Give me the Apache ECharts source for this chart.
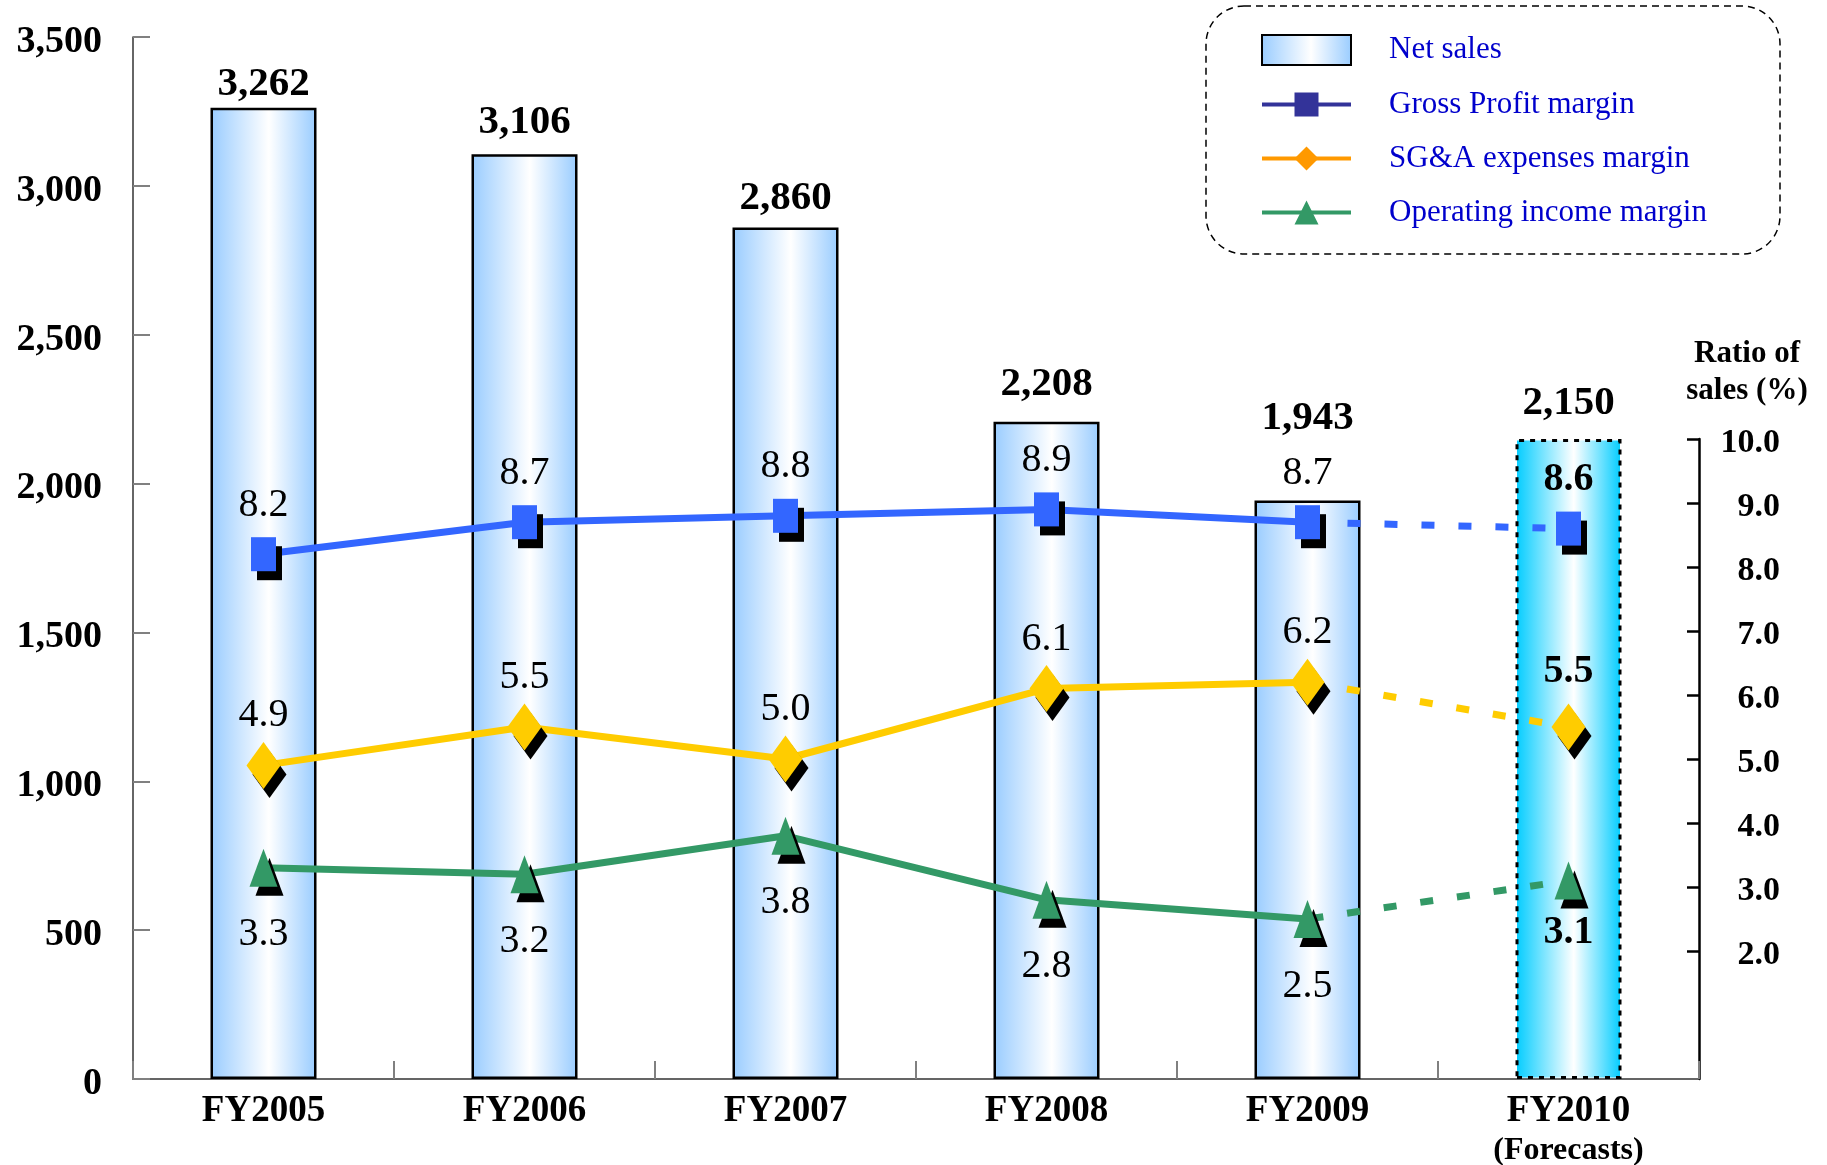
<!DOCTYPE html>
<html>
<head>
<meta charset="utf-8">
<script src="https://cdn.jsdelivr.net/npm/echarts@6/dist/echarts.min.js"></script>
<style>
  html, body { margin: 0; padding: 0; background: #fff; }
  #chart { width: 1827px; height: 1165px; }
</style>
</head>
<body>
<div id="chart"></div>
<script>
// Fiscal years, net sales (100 million yen) and margins (% of sales)
const categories = ['FY2005', 'FY2006', 'FY2007', 'FY2008', 'FY2009', 'FY2010'];
const netSales = [3262, 3106, 2860, 2208, 1943, 2150];
const grossProfitMargin = [8.2, 8.7, 8.8, 8.9, 8.7, 8.6];
const sgaMargin = [4.9, 5.5, 5.0, 6.1, 6.2, 5.5];
const operatingMargin = [3.3, 3.2, 3.8, 2.8, 2.5, 3.1];
const salesTicks = [0, 500, 1000, 1500, 2000, 2500, 3000, 3500];
const ratioTicks = [2, 3, 4, 5, 6, 7, 8, 9, 10];
const forecastIndex = 5; // FY2010 is a forecast

const SERIF = '"Liberation Serif", "Times New Roman", serif';

// gap between each bar top and its value label
const barLabelGap = [3, 11, 9, 17, 62, 15];

function barGradient(edge) {
  return new echarts.graphic.LinearGradient(0, 0, 1, 0, [
    { offset: 0, color: edge },
    { offset: 0.55, color: '#FFFFFF' },
    { offset: 1, color: edge }
  ]);
}

const forecastBarStyle = {
  color: barGradient('#00CCFF'),
  borderColor: '#000',
  borderWidth: 3,
  borderType: [5, 6]
};

const markerShadow = { shadowColor: '#000', shadowOffsetX: 6, shadowOffsetY: 9, shadowBlur: 0 };

// each margin is split into a solid actual-results line and a dashed forecast segment
function marginSeries(name, values, cfg) {
  const labelBase = {
    show: true,
    position: cfg.pos,
    distance: cfg.gap,
    formatter: p => Number(p.value).toFixed(1),
    fontFamily: SERIF,
    fontSize: 40,
    color: '#000'
  };
  const solid = {
    name, type: 'line', xAxisIndex: 1, yAxisIndex: 1, z: 4,
    data: values.map((v, i) => (i < forecastIndex ? v : '-')),
    symbol: cfg.symbol, symbolSize: cfg.size,
    lineStyle: { color: cfg.color, width: 7 },
    itemStyle: Object.assign({ color: cfg.color }, markerShadow),
    label: labelBase,
    clip: false, animation: false
  };
  const dashed = {
    name, type: 'line', xAxisIndex: 1, yAxisIndex: 1, z: 3,
    data: values.map((v, i) => {
      if (i < forecastIndex - 1) return '-';
      if (i === forecastIndex - 1) return { value: v, symbol: 'none', label: { show: false } };
      return { value: v, label: { fontWeight: 'bold', distance: cfg.forecastGap } };
    }),
    symbol: cfg.symbol, symbolSize: cfg.size,
    lineStyle: { color: cfg.color, width: 7, type: [13, 24], dashOffset: 34 },
    itemStyle: Object.assign({ color: cfg.color }, markerShadow),
    label: labelBase,
    clip: false, animation: false
  };
  return [solid, dashed];
}

const chart = echarts.init(document.getElementById('chart'), null, { renderer: 'canvas' });

const option = {
  animation: false,
  backgroundColor: '#fff',
  grid: [
    { left: 133, right: 128, top: 37, bottom: 86, outerBoundsMode: 'none' },
    { left: 133, right: 128, top: 439, bottom: 86, outerBoundsMode: 'none' }
  ],
  legend: {
    orient: 'vertical',
    left: 1260,
    top: 34,
    padding: 0,
    itemWidth: 89,
    itemHeight: 30,
    itemGap: 23,
    selectedMode: false,
    textStyle: { color: '#0000CC', fontFamily: SERIF, fontSize: 31, padding: [0, 0, 0, 33] },
    data: [
      { name: 'Net sales', icon: 'rect', itemStyle: { borderColor: '#000', borderWidth: 2 } },
      { name: 'Gross Profit margin', itemStyle: { color: '#333399' }, lineStyle: { color: '#333399', width: 4 } },
      { name: 'SG&A expenses margin', itemStyle: { color: '#FF9900' }, lineStyle: { color: '#FF9900', width: 4 } },
      { name: 'Operating income margin', itemStyle: { color: '#339966' }, lineStyle: { color: '#339966', width: 4 } }
    ]
  },
  graphic: [
    {
      type: 'rect',
      z: -1,
      shape: { x: 1206, y: 6, width: 574, height: 248, r: 38 },
      style: { fill: 'none', stroke: '#000', lineWidth: 1.5, lineDash: [7, 5] }
    }
  ],
  xAxis: [
    {
      type: 'category', gridIndex: 0, data: categories, boundaryGap: true,
      axisLine: { show: true, lineStyle: { color: '#333', width: 1.5 } },
      axisTick: { show: true, inside: true, length: 18, interval: 0, lineStyle: { color: '#808080', width: 2 } },
      axisLabel: {
        interval: 0, margin: 12,
        fontFamily: SERIF, fontSize: 37, fontWeight: 'bold', color: '#000', lineHeight: 40,
        formatter: (v, i) => (i === forecastIndex ? v + '\n{f|(Forecasts)}' : v),
        rich: { f: { fontFamily: SERIF, fontSize: 32, fontWeight: 'bold', color: '#000', lineHeight: 40 } }
      },
      splitLine: { show: false }
    },
    { type: 'category', gridIndex: 1, data: categories, boundaryGap: true, show: false }
  ],
  yAxis: [
    {
      type: 'value', gridIndex: 0, position: 'left',
      min: salesTicks[0], max: salesTicks[salesTicks.length - 1], interval: salesTicks[1] - salesTicks[0],
      axisLine: { show: true, lineStyle: { color: '#333', width: 1.5 } },
      axisTick: { show: true, inside: true, length: 17, lineStyle: { color: '#808080', width: 2 } },
      axisLabel: {
        formatter: v => v.toLocaleString('en-US'),
        margin: 31, verticalAlign: 'top', lineHeight: 10,
        fontFamily: SERIF, fontSize: 38, fontWeight: 'bold', color: '#000'
      },
      splitLine: { show: false }
    },
    {
      type: 'value', gridIndex: 1, position: 'right', min: 0, max: 10,
      name: 'Ratio of\nsales (%)', nameLocation: 'end', nameGap: 30,
      nameTextStyle: {
        fontFamily: SERIF, fontSize: 31, fontWeight: 'bold', color: '#000',
        lineHeight: 37, align: 'center', padding: [0, 0, 0, 96]
      },
      axisLine: { show: true, lineStyle: { color: '#000', width: 2.5 } },
      axisTick: { show: true, inside: true, length: 12, customValues: ratioTicks, lineStyle: { color: '#000', width: 2.5 } },
      axisLabel: {
        customValues: ratioTicks,
        formatter: v => Number(v).toFixed(1),
        align: 'right', margin: 81, verticalAlign: 'top', lineHeight: 8,
        fontFamily: SERIF, fontSize: 34, fontWeight: 'bold', color: '#000'
      },
      splitLine: { show: false }
    }
  ],
  series: [
    {
      name: 'Net sales', type: 'bar', xAxisIndex: 0, yAxisIndex: 0, z: 2,
      barWidth: 106,
      data: netSales.map((v, i) => {
        const item = { value: v, label: { distance: barLabelGap[i] } };
        if (i === forecastIndex) item.itemStyle = forecastBarStyle;
        return item;
      }),
      itemStyle: { color: barGradient('#99CCFF'), borderColor: '#000', borderWidth: 2.5 },
      label: {
        show: true, position: 'top',
        formatter: p => Number(p.value).toLocaleString('en-US'),
        fontFamily: SERIF, fontSize: 41, fontWeight: 'bold', color: '#000'
      }
    },
    ...marginSeries('Gross Profit margin', grossProfitMargin,
      { color: '#3366FF', symbol: 'rect', size: [25, 34], pos: 'top', gap: 12, forecastGap: 12 }),
    ...marginSeries('SG&A expenses margin', sgaMargin,
      { color: '#FFCC00', symbol: 'diamond', size: [34, 47], pos: 'top', gap: 6, forecastGap: 12 }),
    ...marginSeries('Operating income margin', operatingMargin,
      { color: '#339966', symbol: 'triangle', size: [28, 38], pos: 'bottom', gap: 28, forecastGap: 13 })
  ]
};

chart.setOption(option);
</script>
</body>
</html>
